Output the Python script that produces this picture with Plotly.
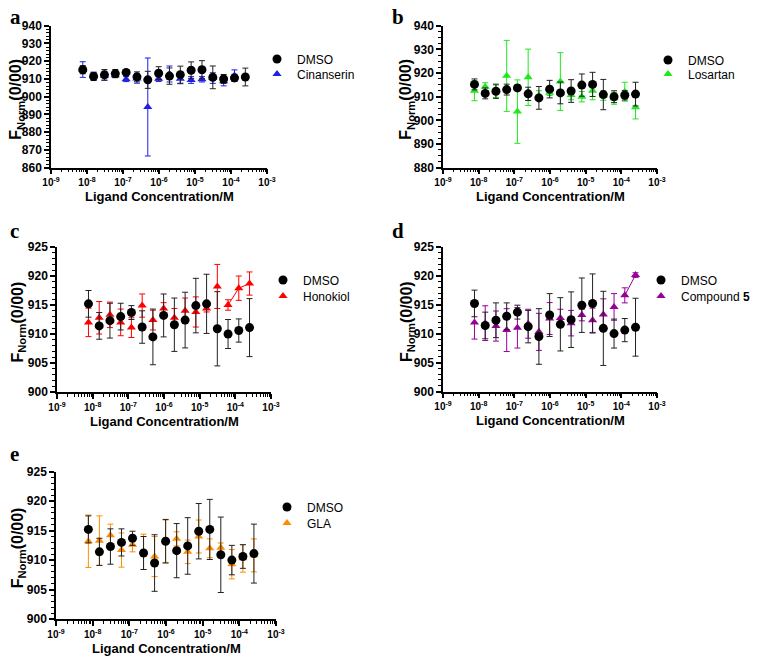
import plotly.graph_objects as go

# concentrations: 2-fold dilution from 250 uM (16 points)
conc = [250e-6 / 2 ** k for k in range(15, -1, -1)]

dmso_mean = [915.2, 911.4, 912.3, 913.0, 913.7, 911.2, 909.5, 913.2, 911.6, 912.4, 914.9, 915.2, 910.9, 910.0, 910.6, 911.1]
dmso_sd = [2.3, 2.3, 3.0, 2.3, 1.2, 2.8, 4.8, 3.7, 4.6, 4.8, 4.7, 5.1, 6.4, 2.5, 2.0, 5.0]

cin_mean = [915.3, 911.6, 911.8, 912.1, 909.9, 910.2, 894.2, 910.1, 912.8, 910.1, 909.4, 909.8, 910.5, 908.7, 911.9]
cin_sd = [4.4, 2.2, 2.5, 1.2, 1.4, 2.6, 27.6, 1.5, 4.5, 2.8, 1.9, 1.5, 3.0, 2.6, 3.2]

los_mean = [912.5, 914.2, 912.3, 918.8, 903.7, 918.2, 910.5, 911.7, 916.4, 910.7, 910.0, 912.5, 910.5, 909.3, 912.1, 905.5]
los_sd = [4.2, 1.7, 2.6, 15.0, 13.4, 11.9, 2.0, 1.2, 12.2, 2.0, 2.2, 3.8, 2.0, 2.5, 4.0, 4.9]

hon_mean = [912.0, 912.8, 913.3, 912.0, 911.1, 914.9, 912.4, 914.4, 912.8, 914.0, 913.8, 914.4, 918.2, 915.0, 917.9, 918.7]
hon_sd = [2.45, 2.8, 2.2, 2.3, 1.7, 2.0, 1.7, 1.0, 1.6, 2.2, 2.6, 0.6, 3.8, 0.9, 2.1, 2.0]

c5_mean = [911.9, 911.8, 911.3, 910.6, 911.0, 911.7, 910.3, 912.6, 912.7, 911.8, 913.2, 912.3, 913.3, 914.6, 916.6, 920.1]
c5_sd = [2.85, 3.0, 2.6, 3.7, 3.5, 2.5, 3.2, 2.75, 1.5, 2.2, 1.0, 2.1, 2.7, 2.3, 1.3, 0.4]

gla_mean = [913.2, 913.3, 914.2, 911.7, 912.6, 911.4, 910.6, 913.2, 913.6, 911.4, 914.0, 912.0, 912.1, 909.3, 910.3, 910.8]
gla_sd = [4.45, 4.2, 1.9, 2.9, 1.2, 3.0, 3.4, 3.6, 1.2, 2.0, 2.8, 1.6, 0.8, 2.5, 2.35, 2.8]

xtick_vals = [1e-9, 1e-8, 1e-7, 1e-6, 1e-5, 1e-4, 1e-3]
xtick_text = ["10<sup>-9</sup>", "10<sup>-8</sup>", "10<sup>-7</sup>", "10<sup>-6</sup>",
              "10<sup>-5</sup>", "10<sup>-4</sup>", "10<sup>-3</sup>"]
minor_vals = [m * 10 ** e for e in range(-9, -3) for m in range(2, 10)]

# the page body has an 8 px margin; lay out in window pixels and shift
OFF = 8
W, H = 760 - OFF, 657 - OFF
FONT = "Liberation Sans, Arial, sans-serif"

panels = [
    dict(key="a", lab="Cinanserin", m=cin_mean, s=cin_sd, c="#1f1fe6", yr=[860, 940], dt=10, mn=2,
         xp=(51, 267), yp=(25.7, 167.7), lp=(8, 17), tx=17, line=0, leg=(287, 59, 74)),
    dict(key="b", lab="Losartan", m=los_mean, s=los_sd, c="#1ee81e", yr=[880, 940], dt=10, mn=2.5,
         xp=(443, 657), yp=(25.7, 167.7), lp=(390, 17), tx=407, line=0, leg=(678, 60, 74)),
    dict(key="c", lab="Honokiol", m=hon_mean, s=hon_sd, c="#ff0000", yr=[900, 925], dt=5, mn=1,
         xp=(57, 271), yp=(247, 392), lp=(8, 231), tx=18, line=3, leg=(293, 280, 296)),
    dict(key="d", lab="Compound <b>5</b>", m=c5_mean, s=c5_sd, c="#990099", yr=[900, 925], dt=5, mn=1,
         xp=(443, 657), yp=(246.7, 391.5), lp=(390, 231), tx=407, line=2, leg=(671, 280, 296)),
    dict(key="e", lab="GLA", m=gla_mean, s=gla_sd, c="#ff8c00", yr=[900, 925], dt=5, mn=1,
         xp=(56, 276), yp=(471.7, 619), lp=(8, 454), tx=18, line=0, leg=(297, 507, 523)),
]


def px(x):
    return (x - OFF) / W


def py(y):
    return 1 - (y - OFF) / H


fig = go.Figure()
annotations = []
layout_axes = {}

for i, p in enumerate(panels):
    n = i + 1
    xa = "x" if n == 1 else f"x{n}"
    ya = "y" if n == 1 else f"y{n}"
    lg_d = "legend" if n == 1 else f"legend{2 * n - 1}"
    lg_c = f"legend{2 * n}"
    xconc = conc[:len(p["m"])]
    if p["line"]:
        k = p["line"]
        fig.add_trace(go.Scatter(x=xconc[-k:], y=p["m"][-k:], mode="lines",
                                 line=dict(color=p["c"], width=1), showlegend=False,
                                 xaxis=xa, yaxis=ya, hoverinfo="skip"))
    fig.add_trace(go.Scatter(x=xconc, y=p["m"], mode="markers", name=p["lab"],
                             marker=dict(symbol="triangle-up", size=8, color=p["c"]),
                             error_y=dict(type="data", array=p["s"], color=p["c"], thickness=1, width=3),
                             xaxis=xa, yaxis=ya, legend=lg_c))
    fig.add_trace(go.Scatter(x=conc, y=dmso_mean, mode="markers", name="DMSO",
                             marker=dict(symbol="circle", size=9, color="black"),
                             error_y=dict(type="data", array=dmso_sd, color="#222222", thickness=1, width=3),
                             xaxis=xa, yaxis=ya, legend=lg_d))

    x0, x1 = p["xp"]
    y0, y1 = p["yp"]
    xkey = "xaxis" if n == 1 else f"xaxis{n}"
    ykey = "yaxis" if n == 1 else f"yaxis{n}"
    layout_axes[xkey] = dict(
        type="log", range=[-9, -3], domain=[px(x0), px(x1)], anchor=ya, automargin=False,
        tickvals=xtick_vals, ticktext=xtick_text, ticks="outside", ticklen=5, tickwidth=1.5,
        tickcolor="black", showline=True, linecolor="black", linewidth=1.5,
        showgrid=False, zeroline=False,
        tickfont=dict(family=FONT, size=10, color="black", weight="bold"),
        minor=dict(tickvals=minor_vals, ticks="outside", ticklen=3, tickwidth=1, tickcolor="black", showgrid=False),
    )
    layout_axes[ykey] = dict(
        range=p["yr"], domain=[py(y1), py(y0)], anchor=xa, dtick=p["dt"], tick0=0, automargin=False,
        ticks="outside", ticklen=5, tickwidth=1.5, tickcolor="black",
        showline=True, linecolor="black", linewidth=1.5, showgrid=False, zeroline=False,
        tickfont=dict(family=FONT, size=12, color="black", weight="bold"),
        minor=dict(dtick=p["mn"], ticks="outside", ticklen=3, tickwidth=1, tickcolor="black", showgrid=False),
    )
    mx, ly1, ly2 = p["leg"]
    for lgname, ly in ((lg_d, ly1), (lg_c, ly2)):
        layout_axes[lgname] = dict(
            x=px(mx - 30), y=py(ly), xanchor="left", yanchor="middle",
            font=dict(family=FONT, size=12, color="black"), bgcolor="rgba(0,0,0,0)",
            tracegroupgap=0, itemwidth=30,
        )
    annotations.append(dict(text="<b>Ligand Concentration/M</b>", x=px((x0 + x1) / 2), y=py(y1 + 29),
                            xref="paper", yref="paper", showarrow=False, xanchor="center", yanchor="middle",
                            font=dict(family=FONT, size=13, color="black")))
    annotations.append(dict(text="<b>F<sub>Norm</sub>(0/00)</b>", x=px(p["tx"]), y=py((y0 + y1) / 2 + 3),
                            xref="paper", yref="paper", showarrow=False, xanchor="center", yanchor="middle",
                            textangle=-90, font=dict(family=FONT, size=16, color="black")))
    annotations.append(dict(text="<b>" + p["key"] + "</b>", x=px(p["lp"][0]), y=py(p["lp"][1]),
                            xref="paper", yref="paper", showarrow=False, xanchor="left", yanchor="middle",
                            font=dict(family="Liberation Serif, Times New Roman, serif", size=21, color="black")))

fig.update_layout(
    width=W, height=H, margin=dict(l=0, r=0, t=0, b=0, autoexpand=False),
    paper_bgcolor="white", plot_bgcolor="white",
    annotations=annotations, **layout_axes,
)

fig.write_html("out.html")
